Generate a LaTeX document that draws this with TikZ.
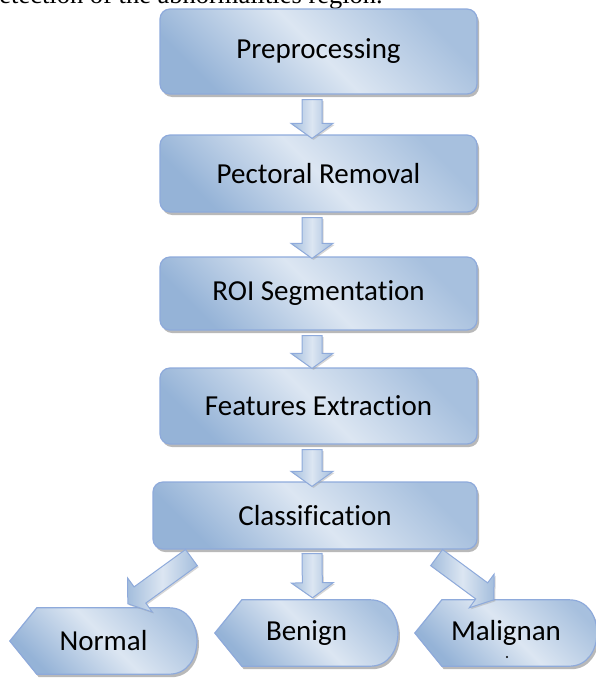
\documentclass[tikz,border=0pt]{standalone}
\usepackage{fontspec}
\setmainfont{Carlito}[RawFeature={-liga,-calt,-clig}]
\newfontfamily\captionserif{Liberation Serif}
\usepackage{tikz}
\usetikzlibrary{calc,shadows,backgrounds}

\definecolor{boxlight}{HTML}{DCE6F2}
\definecolor{boxdark}{HTML}{95B3D7}
\definecolor{boxline}{HTML}{8EAADB}

\pgfdeclarehorizontalshading{stageshade}{100bp}{color(0bp)=(boxdark); color(25bp)=(boxdark); color(50bp)=(boxlight); color(75bp)=(boxdark!75!boxlight); color(100bp)=(boxdark!75!boxlight)}

\tikzstyle{softshadow} = [drop shadow={shadow xshift=2pt, shadow yshift=-3pt, fill=black!50, opacity=0.55}]
\tikzstyle{stage} = [draw=boxline, line width=1.2pt, rounded corners=10pt, shade, shading=stageshade, shading angle=45, softshadow, minimum width=317pt, text=black, font=\fontsize{29}{34}\selectfont]
\tikzstyle{outcome} = [minimum width=183pt, minimum height=66pt, inner sep=0pt, text=black, font=\fontsize{29}{34}\selectfont]
\tikzstyle{outline} = [draw=boxline, line width=1.2pt, shade, shading=stageshade, shading angle=45, softshadow]
\tikzstyle{blockarrow} = [draw=boxline, line width=1pt, left color=boxdark!80!boxlight, right color=boxdark!80!boxlight, middle color=boxlight, drop shadow={shadow xshift=1.5pt, shadow yshift=-1.5pt, fill=black!40, opacity=0.4}]

% block arrow from #1 (tail) to #2 (tip)
\newcommand{\blockarrow}[2]{%
  \coordinate (ba-t) at (#1);
  \coordinate (ba-h) at (#2);
  \coordinate (ba-b) at ($(ba-h)!15pt!(ba-t)$);
  \path[blockarrow] ($(ba-t)!10pt!90:(ba-h)$) -- ($(ba-b)!10pt!90:(ba-h)$) -- ($(ba-b)!21pt!90:(ba-h)$)
    -- (ba-h) -- ($(ba-b)!21pt!-90:(ba-h)$) -- ($(ba-b)!10pt!-90:(ba-h)$) -- ($(ba-t)!10pt!-90:(ba-h)$) -- cycle;
}

\begin{document}
\begin{tikzpicture}[x=1pt, y=-1pt]
    \useasboundingbox (0,0) rectangle (595,680);

    \node[anchor=base east, inner sep=0pt, font=\captionserif\fontsize{26.5}{30}\selectfont] (caption) at (383,4) {detection of the abnormalities region.};

    \node[stage, minimum height=85pt] (pre) at (318.5,51.5) {Preprocessing};
    \node[stage, minimum height=77pt] (pect) at (318.5,173.5) {Pectoral Removal};
    \node[stage, minimum height=73pt] (roi) at (318.5,293.5) {ROI Segmentation};
    \node[stage, minimum height=76pt] (feat) at (318.5,406) {Features Extraction};
    \node[stage, minimum width=324pt, minimum height=67pt] (class) at (315,515.5) {Classification};

    \node[outcome, minimum width=187pt] (normal) at (103.5,641) {Normal};
    \node[outcome] (benign) at (306.5,633) {Benign};
    \node[outcome, minimum width=182pt] (malig) at (506,633) {Malignan};
    \fill (507,657) circle (1.2);

    \begin{scope}[on background layer]
        \foreach \n in {normal,benign,malig}
            \path[outline] (\n.west) -- ($(\n.north west)+(27,0)$) -- ($(\n.north east)+(-28,0)$)
                .. controls ($(\n.north east)+(9,0)$) and ($(\n.south east)+(9,0)$) .. ($(\n.south east)+(-28,0)$)
                -- ($(\n.south west)+(27,0)$) -- cycle;
    \end{scope}

    \blockarrow{$(pre.south)+(-6.5,5)$}{$(pect.north)+(-6.5,4)$}
    \blockarrow{$(pect.south)+(-6.5,5)$}{$(roi.north)+(-6.5,2)$}
    \blockarrow{$(roi.south)+(-6.5,5)$}{$(feat.north)+(-6.5,1)$}
    \blockarrow{$(feat.south)+(-6.5,5)$}{$(class.north)+(-3,5)$}

    \blockarrow{$(class.south west)+(39,8)$}{$(normal.north west)+(118,-4)$}
    \blockarrow{$(class.south)+(-3,4)$}{$(benign.north)+(6,-2)$}
    \blockarrow{$(class.south east)+(-41,8)$}{$(malig.north west)+(79,0)$}
\end{tikzpicture}
\end{document}
